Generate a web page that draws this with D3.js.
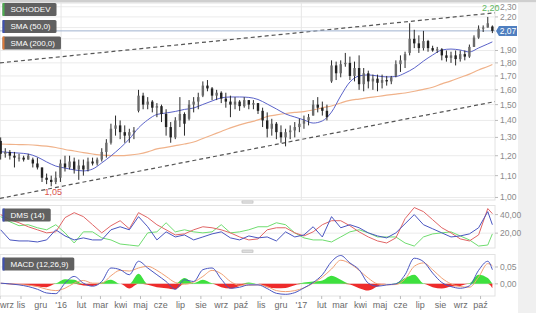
<!DOCTYPE html>
<html>
<head>
<meta charset="utf-8">
<script src="https://cdn.jsdelivr.net/npm/d3@7"></script>
<style>
  body { margin: 0; background: #fff; }
  svg { display: block; font-family: "Liberation Sans", Arial, sans-serif; }
</style>
</head>
<body>
<svg id="chart" width="536" height="313"></svg>
<script>
// weekly candles [open, high, low, close], first week starts 2015-10-01
let weekStart = new Date(2015, 9, 1);
let ohlc = [
  [1.28,1.30,1.18,1.21],[1.21,1.24,1.19,1.22],[1.22,1.23,1.18,1.20],[1.20,1.22,1.14,1.19],
  [1.19,1.21,1.17,1.19],[1.19,1.20,1.17,1.18],[1.18,1.21,1.18,1.20],[1.18,1.19,1.14,1.16],
  [1.16,1.19,1.13,1.14],[1.14,1.14,1.07,1.09],[1.09,1.11,1.06,1.08],[1.08,1.10,1.05,1.07],
  [1.07,1.12,1.06,1.09],[1.09,1.18,1.07,1.16],[1.16,1.20,1.12,1.14],[1.14,1.20,1.13,1.17],
  [1.17,1.19,1.11,1.13],[1.13,1.18,1.08,1.15],[1.15,1.18,1.10,1.13],[1.13,1.19,1.12,1.17],
  [1.17,1.19,1.15,1.16],[1.16,1.19,1.15,1.18],[1.18,1.24,1.17,1.22],[1.22,1.29,1.19,1.27],
  [1.27,1.38,1.26,1.35],[1.35,1.43,1.31,1.37],[1.37,1.40,1.29,1.33],[1.33,1.37,1.27,1.31],
  [1.31,1.35,1.27,1.33],[1.33,1.36,1.29,1.34],[1.46,1.60,1.45,1.56],[1.56,1.58,1.47,1.50],
  [1.50,1.55,1.47,1.52],[1.52,1.53,1.45,1.48],[1.48,1.51,1.42,1.49],[1.49,1.50,1.39,1.44],
  [1.44,1.47,1.31,1.36],[1.36,1.39,1.27,1.30],[1.30,1.42,1.29,1.40],[1.40,1.55,1.36,1.44],
  [1.44,1.45,1.31,1.38],[1.41,1.53,1.40,1.50],[1.50,1.55,1.45,1.52],[1.52,1.58,1.47,1.55],
  [1.56,1.66,1.55,1.63],[1.63,1.67,1.59,1.61],[1.61,1.62,1.53,1.56],[1.56,1.60,1.53,1.58],
  [1.58,1.59,1.51,1.54],[1.54,1.58,1.48,1.52],[1.52,1.56,1.42,1.50],[1.50,1.55,1.47,1.52],
  [1.52,1.53,1.46,1.49],[1.49,1.55,1.48,1.53],[1.53,1.53,1.47,1.50],[1.50,1.53,1.47,1.51],
  [1.51,1.51,1.44,1.46],[1.46,1.48,1.36,1.40],[1.40,1.45,1.30,1.35],[1.35,1.41,1.31,1.38],
  [1.38,1.39,1.29,1.33],[1.33,1.37,1.27,1.30],[1.30,1.35,1.25,1.33],[1.33,1.37,1.29,1.34],
  [1.34,1.39,1.30,1.36],[1.36,1.41,1.33,1.38],[1.38,1.43,1.35,1.40],[1.40,1.44,1.37,1.42],
  [1.43,1.53,1.43,1.50],[1.50,1.55,1.45,1.48],[1.48,1.52,1.43,1.46],[1.46,1.50,1.40,1.42],
  [1.66,1.82,1.65,1.78],[1.78,1.81,1.67,1.72],[1.72,1.82,1.69,1.79],[1.79,1.88,1.77,1.80],
  [1.80,1.85,1.67,1.70],[1.70,1.81,1.66,1.76],[1.76,1.86,1.60,1.64],[1.64,1.76,1.59,1.72],
  [1.72,1.74,1.61,1.66],[1.66,1.71,1.60,1.68],[1.68,1.71,1.59,1.65],[1.65,1.71,1.61,1.67],
  [1.67,1.70,1.63,1.66],[1.66,1.70,1.64,1.69],[1.70,1.82,1.69,1.79],[1.79,1.86,1.73,1.82],
  [1.82,1.89,1.76,1.87],[1.88,2.14,1.86,2.00],[2.00,2.08,1.92,1.96],[1.96,2.03,1.88,1.92],
  [1.92,2.07,1.90,1.98],[1.98,1.99,1.89,1.92],[1.92,1.94,1.89,1.90],[1.90,1.93,1.88,1.91],
  [1.91,1.92,1.82,1.86],[1.86,1.90,1.81,1.84],[1.84,1.89,1.80,1.86],[1.86,1.90,1.78,1.83],
  [1.83,1.90,1.81,1.87],[1.87,1.90,1.82,1.85],[1.85,1.95,1.84,1.93],[1.93,2.03,1.93,2.01],
  [2.01,2.12,2.00,2.09],[2.09,2.12,2.06,2.10],[2.10,2.20,2.10,2.14],[2.11,2.12,2.05,2.07]
];

// indicator points are read every second week (plus the last week)
let indWeeks = d3.range(0, 107, 2).concat([107]);

let sma50 = [1.221,1.217,1.214,1.209,1.193,1.168,1.147,1.137,1.128,1.123,1.132,1.163,1.199,1.241,1.291,1.355,1.403,1.437,1.446,1.456,
  1.469,1.478,1.501,1.524,1.545,1.551,1.551,1.548,1.534,1.504,1.472,1.440,1.421,1.403,1.384,1.397,1.452,1.558,1.656,1.700,
  1.708,1.700,1.693,1.696,1.722,1.760,1.814,1.863,1.904,1.912,1.904,1.888,1.921,1.955,1.973];
let sma200 = [1.263,1.261,1.260,1.259,1.256,1.251,1.244,1.233,1.225,1.216,1.209,1.203,1.201,1.200,1.203,1.209,1.220,1.236,1.245,1.254,
  1.263,1.274,1.294,1.314,1.334,1.355,1.373,1.388,1.403,1.424,1.434,1.443,1.450,1.455,1.466,1.479,1.491,1.511,1.528,1.537,
  1.546,1.554,1.563,1.571,1.578,1.590,1.603,1.618,1.642,1.664,1.689,1.714,1.745,1.772,1.787];

let dmsRed = [40.0,34.5,31.2,26.9,23.6,20.3,21.4,36.7,42.1,37.8,29.1,20.3,28.0,33.4,24.7,42.1,36.7,29.1,23.6,18.1,
  19.2,23.6,26.9,25.8,23.6,20.3,15.9,12.7,13.8,23.6,25.8,25.8,20.3,17.0,21.4,29.1,33.4,33.4,28.0,21.4,
  15.9,11.6,9.4,14.9,35.6,47.6,43.2,34.5,25.8,20.3,13.8,11.6,18.1,46.5,41.0];
let dmsBlue = [23.6,12.7,11.6,11.6,10.5,12.7,23.6,17.0,12.7,14.9,12.7,12.7,23.6,26.9,23.6,37.8,26.9,12.7,21.4,15.9,
  18.1,12.7,15.9,19.2,21.4,14.9,12.7,17.0,14.9,15.9,11.6,21.4,15.9,18.1,26.9,15.9,37.8,25.8,29.1,25.8,
  20.3,17.0,14.9,20.3,30.1,40.0,29.1,24.7,20.3,15.9,17.0,19.2,25.8,43.2,29.1];
let dmsGreen = [37.8,32.3,28.0,29.1,25.8,23.6,29.1,20.3,9.4,21.4,21.4,14.9,12.7,8.3,7.2,6.1,20.3,21.4,31.2,21.4,
  23.6,21.4,20.3,21.4,29.1,20.3,21.4,23.6,26.9,26.9,31.2,29.1,20.3,14.9,12.7,12.7,10.5,15.9,21.4,23.6,
  20.3,15.9,15.9,15.9,9.4,6.1,15.9,19.2,20.3,21.4,17.0,12.7,6.1,7.2,19.2];

let macdLine = [0.002,0,-0.003,-0.008,-0.016,-0.027,-0.029,0.002,0.022,0.002,-0.007,0.007,0.047,0.042,0.027,0.067,0.047,0.027,0.007,-0.016,
  0.012,0.007,0.042,0.047,0.014,-0.013,-0.010,-0.003,-0.003,-0.014,-0.028,-0.031,-0.026,-0.012,0.004,0.027,0.066,0.084,0.062,0.042,
  0.002,-0.007,-0.003,0,0.027,0.076,0.066,0.032,0.004,-0.008,-0.013,-0.006,0.040,0.067,0.042];
let macdSignal = [0.002,0,-0.002,-0.004,-0.008,-0.016,-0.020,-0.013,0.002,0.010,0.002,0.002,0.024,0.040,0.038,0.047,0.052,0.040,0.022,0.004,
  -0.001,0.005,0.022,0.040,0.030,0.007,-0.004,-0.004,-0.003,-0.008,-0.020,-0.023,-0.020,-0.012,0.002,0.020,0.044,0.070,0.060,0.040,
  0.017,0,-0.003,-0.002,0.014,0.052,0.062,0.042,0.017,0,-0.008,-0.010,0.020,0.060,0.054];
let macdHist = [0,-0.001,-0.002,-0.004,-0.008,-0.010,0.002,0.014,0.012,-0.005,-0.006,0.004,0.012,0,-0.014,0.030,-0.003,-0.010,-0.013,-0.016,
  0.017,0.002,0.012,0.002,-0.010,-0.014,-0.006,0.004,0,-0.010,-0.013,-0.012,-0.004,0.004,0.007,0.010,0.024,0.012,-0.002,-0.013,
  -0.020,-0.008,0,0.002,0.017,0.027,0.002,-0.010,-0.014,-0.008,-0.006,0.002,0.027,0.017,-0.013];

// dashed channel lines: price at chart start and chart end
let trendUpper = [1.80, 2.24];
let trendLower = [0.996, 1.52];

let priceTicks = [1.0,1.1,1.2,1.3,1.4,1.5,1.6,1.7,1.8,1.9,2.0,2.1,2.2,2.3];
let dmsTicks = [20, 40];
let macdTicks = [0, 0.05];
let monthLabels = ["wrz","lis","gru","'16","lut","mar","kwi","maj","cze","lip","sie","wrz","paź",
  "lis","gru","'17","lut","mar","kwi","maj","cze","lip","sie","wrz","paź"];

let plot_left = 0, plot_right = 495;
let main_top = 3, main_bottom = 200;
let dms_top = 205.5, dms_bottom = 248;
let macd_top = 254.5, macd_bottom = 296;

let svg = d3.select('#chart');
let fmt = v => d3.format('.2f')(v).replace('.', ',');
let weekDate = i => d3.timeDay.offset(weekStart, 7 * i);

let dateStart = new Date(2015, 8, 30), dateEnd = new Date(2017, 9, 23);
let x = d3.scaleTime().domain([dateStart, dateEnd]).range([plot_left, plot_right]);
let y = d3.scaleLog().domain([0.989, 2.338]).range([main_bottom, main_top]);
let yd = d3.scaleLinear().domain([4, 49.8]).range([dms_bottom, dms_top]);
let ym = d3.scaleLinear().domain([-0.036, 0.087]).range([macd_bottom, macd_top]);

let lastClose = ohlc[ohlc.length - 1][3];

// background bits
svg.append('rect').attr('x', 0).attr('y', 0).attr('width', 536).attr('height', 2.5).attr('fill', '#cfcfcf');
svg.append('rect').attr('x', 518).attr('y', 2.5).attr('width', 18).attr('height', 311).attr('fill', '#f0f0f0');

let defs = svg.append('defs');
[['clipMain', main_top, main_bottom], ['clipDms', dms_top, dms_bottom], ['clipMacd', macd_top, macd_bottom]].forEach(c => {
  defs.append('clipPath').attr('id', c[0]).append('rect')
    .attr('x', plot_left).attr('y', c[1]).attr('width', plot_right - plot_left).attr('height', c[2] - c[1]);
});

// panel frames, grids and right axes; labels hidden behind the price tag are skipped
function panel(top, bottom, scale, ticks, clipId, hideNear){
  let g = svg.append('g');
  g.append('rect').attr('x', plot_left).attr('y', top).attr('width', plot_right - plot_left).attr('height', bottom - top)
    .attr('fill', '#fff').attr('stroke', '#e2e2e2').attr('stroke-width', 1);
  g.selectAll('.hgrid').data(ticks).enter().append('line').attr('class', 'hgrid')
    .attr('x1', plot_left).attr('x2', plot_right).attr('y1', d => scale(d)).attr('y2', d => scale(d))
    .attr('stroke', '#ebebeb').attr('stroke-width', 1);
  g.selectAll('.vgrid').data([new Date(2016, 0, 1), new Date(2017, 0, 1)]).enter().append('line').attr('class', 'vgrid')
    .attr('x1', d => x(d)).attr('x2', d => x(d)).attr('y1', top).attr('y2', bottom)
    .attr('stroke', '#e6e6e6').attr('stroke-width', 1);
  let shown = ticks.filter(d => hideNear == null || Math.abs(scale(d) - hideNear) > 8);
  let ax = g.selectAll('.ytick').data(shown).enter().append('g').attr('class', 'ytick')
    .attr('transform', d => 'translate(' + plot_right + ',' + scale(d) + ')');
  ax.append('line').attr('x1', 0).attr('x2', 3).attr('stroke', '#bbb');
  ax.append('text').attr('x', 5).attr('dy', '0.35em').attr('font-size', 8.5).attr('fill', '#8a8a8a').text(d => fmt(d));
  return svg.append('g').attr('clip-path', 'url(#' + clipId + ')');
}

let mainG = panel(main_top, main_bottom, y, priceTicks, 'clipMain', y(lastClose));
let dmsG = panel(dms_top, dms_bottom, yd, dmsTicks, 'clipDms', null);
let macdG = panel(macd_top, macd_bottom, ym, macdTicks, 'clipMacd', null);

// panel resize handles
[202, 251.3].forEach(hy => {
  let h = svg.append('g').attr('transform', 'translate(' + ((plot_left + plot_right) / 2 - 6) + ',' + (hy - 1.8) + ')');
  h.append('rect').attr('width', 12).attr('height', 3.6).attr('rx', 1).attr('fill', '#d0d0d0');
  h.append('line').attr('x1', 1.5).attr('x2', 10.5).attr('y1', 1.8).attr('y2', 1.8).attr('stroke', '#eee').attr('stroke-width', 0.6);
});

// channel lines
let trendLine = d3.line().x(d => x(d[0])).y(d => y(d[1]));
[trendUpper, trendLower].forEach(t => {
  mainG.append('path').attr('d', trendLine([[dateStart, t[0]], [dateEnd, t[1]]]))
    .attr('fill', 'none').attr('stroke', '#555').attr('stroke-width', 1.2).attr('stroke-dasharray', '4,3');
});

// last price line
mainG.append('line').attr('x1', plot_left).attr('x2', plot_right).attr('y1', y(lastClose)).attr('y2', y(lastClose))
  .attr('stroke', '#9fb3cf').attr('stroke-width', 1);

// moving averages
let smaLine = vals => d3.line().curve(d3.curveMonotoneX)
  .x((d, i) => x(weekDate(indWeeks[i]))).y(d => y(d))(vals);
mainG.append('path').attr('d', smaLine(sma200)).attr('fill', 'none').attr('stroke', '#f0b28a').attr('stroke-width', 1.2);
mainG.append('path').attr('d', smaLine(sma50)).attr('fill', 'none').attr('stroke', '#5b63c9').attr('stroke-width', 1);

// candles
let candles = mainG.selectAll('.candle').data(ohlc).enter().append('g').attr('class', 'candle')
  .attr('transform', (d, i) => 'translate(' + x(weekDate(i)) + ',0)');
candles.append('line').attr('y1', d => y(d[1])).attr('y2', d => y(d[2])).attr('stroke', '#2a2a2a').attr('stroke-width', 1);
candles.append('rect').attr('x', -1.2).attr('width', 2.4)
  .attr('y', d => y(Math.max(d[0], d[3])))
  .attr('height', d => Math.max(1, Math.abs(y(d[0]) - y(d[3]))))
  .attr('fill', d => d[3] >= d[0] ? '#6a6a6a' : '#222');

// max / min labels
let hiIdx = d3.maxIndex(ohlc, d => d[1]);
let loIdx = d3.minIndex(ohlc, d => d[2]);
svg.append('text').attr('x', x(weekDate(hiIdx)) + 3).attr('y', y(ohlc[hiIdx][1]) - 6)
  .attr('text-anchor', 'middle').attr('font-size', 9).attr('fill', '#5cb85c').text(fmt(ohlc[hiIdx][1]));
svg.append('text').attr('x', x(weekDate(loIdx)) + 2).attr('y', y(ohlc[loIdx][2]) + 9)
  .attr('text-anchor', 'middle').attr('font-size', 9).attr('fill', '#d9534f').text(fmt(ohlc[loIdx][2]));

// last price tag
let tag = svg.append('g').attr('transform', 'translate(' + (plot_right + 1) + ',' + y(lastClose) + ')');
tag.append('path').attr('d', 'M0,0 L3,-5 L21,-5 L21,5 L3,5 Z').attr('fill', '#4f7fc0');
tag.append('text').attr('x', 12).attr('dy', '0.35em').attr('text-anchor', 'middle')
  .attr('font-size', 8.5).attr('fill', '#fff').text(fmt(lastClose));

// DMS
let indX = (d, i) => x(weekDate(indWeeks[i]));
let dmsLine = d3.line().x(indX).y(d => yd(d));
[[dmsGreen, '#6fdc6f'], [dmsRed, '#e06666'], [dmsBlue, '#4a56c0']].forEach(s => {
  dmsG.append('path').attr('d', dmsLine(s[0])).attr('fill', 'none').attr('stroke', s[1]).attr('stroke-width', 1);
});

// MACD
let histArea = sign => d3.area().curve(d3.curveMonotoneX).x(indX).y0(ym(0))
  .y1(d => ym(sign > 0 ? Math.max(0, d) : Math.min(0, d)));
macdG.append('path').attr('d', histArea(1)(macdHist)).attr('fill', '#3ee03e');
macdG.append('path').attr('d', histArea(-1)(macdHist)).attr('fill', '#ee2b2b');
let macdPath = d3.line().curve(d3.curveMonotoneX).x(indX).y(d => ym(d));
macdG.append('path').attr('d', macdPath(macdSignal)).attr('fill', 'none').attr('stroke', '#f0a074').attr('stroke-width', 1);
macdG.append('path').attr('d', macdPath(macdLine)).attr('fill', 'none').attr('stroke', '#4a56c0').attr('stroke-width', 1);

// x axis
let tickDates = [dateStart].concat(d3.timeMonth.range(new Date(2015, 10, 1), new Date(2017, 9, 2)));
let xt = svg.selectAll('.xtick').data(tickDates).enter().append('g').attr('class', 'xtick')
  .attr('transform', d => 'translate(' + x(d) + ',' + macd_bottom + ')');
xt.append('line').attr('y1', 0).attr('y2', 3).attr('stroke', '#bbb');
xt.append('text').attr('y', 12).attr('font-size', 9).attr('fill', '#6a6a6a')
  .attr('text-anchor', (d, i) => i === 0 ? 'start' : 'middle')
  .text((d, i) => monthLabels[i]);

// legend tags
function legendTag(label, color, tx, ty){
  let g = svg.append('g').attr('transform', 'translate(' + tx + ',' + ty + ')');
  let r = g.append('rect').attr('height', 13).attr('rx', 1.5).attr('fill', '#545454').attr('opacity', 0.92);
  let t = g.append('text').attr('x', 8).attr('y', 9.3).attr('font-size', 8).attr('fill', '#fff').text(label);
  r.attr('width', t.node().getComputedTextLength() + 14);
  g.append('rect').attr('width', 2).attr('height', 13).attr('fill', color);
}
legendTag('SOHODEV', '#4caf50', 2.5, 3);
legendTag('SMA (50,0)', '#3f51b5', 2.5, 20);
legendTag('SMA (200,0)', '#e07b39', 2.5, 36.5);
legendTag('DMS (14)', '#3f51b5', 2.5, 208.5);
legendTag('MACD (12,26,9)', '#3f51b5', 2.5, 257.5);
</script>
</body>
</html>
